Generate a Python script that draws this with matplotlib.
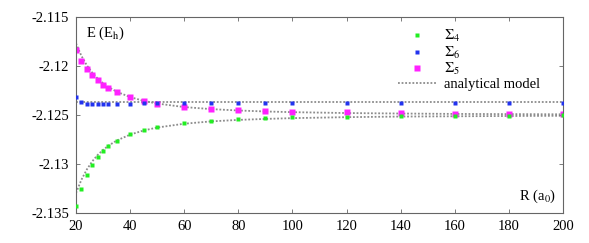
import matplotlib.pyplot as plt

R = [20, 22, 24, 26, 28, 30, 32, 35, 40, 45, 50, 60, 70, 80, 90, 100, 120, 140, 160, 180, 200]

sigma4 = [-2.13425, -2.13255, -2.13115, -2.13010, -2.12932, -2.12867, -2.12816, -2.12762,
          -2.12697, -2.12653, -2.12619, -2.12582, -2.12558, -2.12541, -2.12530, -2.12524,
          -2.12517, -2.12514, -2.12510, -2.12507, -2.12505]
sigma6 = [-2.12313, -2.12364, -2.12385, -2.12386, -2.12387, -2.12386, -2.12385, -2.12385,
          -2.12385, -2.12382, -2.12381, -2.12375, -2.12374, -2.12374, -2.12374, -2.12374,
          -2.12374, -2.12374, -2.12374, -2.12374, -2.12374]
sigma5 = [-2.11837, -2.11949, -2.12031, -2.12095, -2.12143, -2.12191, -2.12224, -2.12265,
          -2.12319, -2.12354, -2.12385, -2.12415, -2.12439, -2.12449, -2.12459, -2.12466,
          -2.12473, -2.12480, -2.12487, -2.12487, -2.12490]

# analytical model
model_lo = [-2.13296, -2.13161, -2.13056, -2.12973, -2.12908, -2.12856, -2.12813, -2.12761,
            -2.12700, -2.12658, -2.12628, -2.12589, -2.12565, -2.12550, -2.12540, -2.12532,
            -2.12522, -2.12516, -2.12513, -2.12510, -2.12508]
model_mid = [-2.12370] * len(R)
model_hi = [-2.11769, -2.11897, -2.11993, -2.12068, -2.12128, -2.12176, -2.12215, -2.12262,
            -2.12317, -2.12356, -2.12383, -2.12419, -2.12440, -2.12454, -2.12464, -2.12471,
            -2.12480, -2.12485, -2.12489, -2.12491, -2.12493]

plt.rcParams['font.family'] = ['Liberation Serif', 'DejaVu Serif']
plt.rcParams['mathtext.fontset'] = 'stix'

fig = plt.figure(figsize=(5.89, 2.43), dpi=100)
ax = fig.add_axes([76 / 589, 1 - 213 / 243, (563 - 76) / 589, (213 - 17) / 243])

mc = '#8c8c8c'
ax.plot(R, model_lo, ls=(0, (1, 1)), color=mc, lw=1.3, zorder=1)
ax.plot(R, model_mid, ls=(0, (1, 1)), color=mc, lw=1.3, zorder=1)
ax.plot(R, model_hi, ls=(0, (1, 1)), color=mc, lw=1.3, zorder=1, label='analytical model')

ax.plot(R, sigma4, 's', color='#22ee22', ms=3.3, mec='none', ls='none', zorder=3, label=r'$\Sigma_4$')
ax.plot(R, sigma6, 's', color='#2233ee', ms=3.3, mec='none', ls='none', zorder=3, label=r'$\Sigma_6$')
ax.plot(R, sigma5, 's', color='#ff22ff', ms=4.8, mec='none', ls='none', zorder=2, label=r'$\Sigma_5$')

ax.set_xlim(20, 200)
ax.set_ylim(-2.135, -2.115)
ax.set_xticks([20, 40, 60, 80, 100, 120, 140, 160, 180, 200])
ax.set_yticks([-2.135, -2.13, -2.125, -2.12, -2.115])
ax.set_yticklabels(['-2.135', '-2.13', '-2.125', '-2.12', '-2.115'])
ax.tick_params(direction='in', length=3, width=0.6, color='#666666', labelsize=10.5,
               top=True, right=True, pad=5)
for s in ax.spines.values():
    s.set_color('#666666')
    s.set_linewidth(0.8)

ax.text(0.02, 0.96, r'E (E$_{\rm h}$)', transform=ax.transAxes, fontsize=10.5, va='top', ha='left')
ax.text(0.985, 0.04, r'R (a$_0$)', transform=ax.transAxes, fontsize=10.5, va='bottom', ha='right')

h, l = ax.get_legend_handles_labels()
order = [1, 2, 3, 0]
ax.legend([h[i] for i in order], [l[i] for i in order], loc='upper left',
          bbox_to_anchor=(0.647, 0.98), frameon=False, fontsize=10.5,
          handlelength=2.6, handletextpad=0.55, labelspacing=0.03, borderpad=0)

fig.savefig('out.png', dpi=100)
